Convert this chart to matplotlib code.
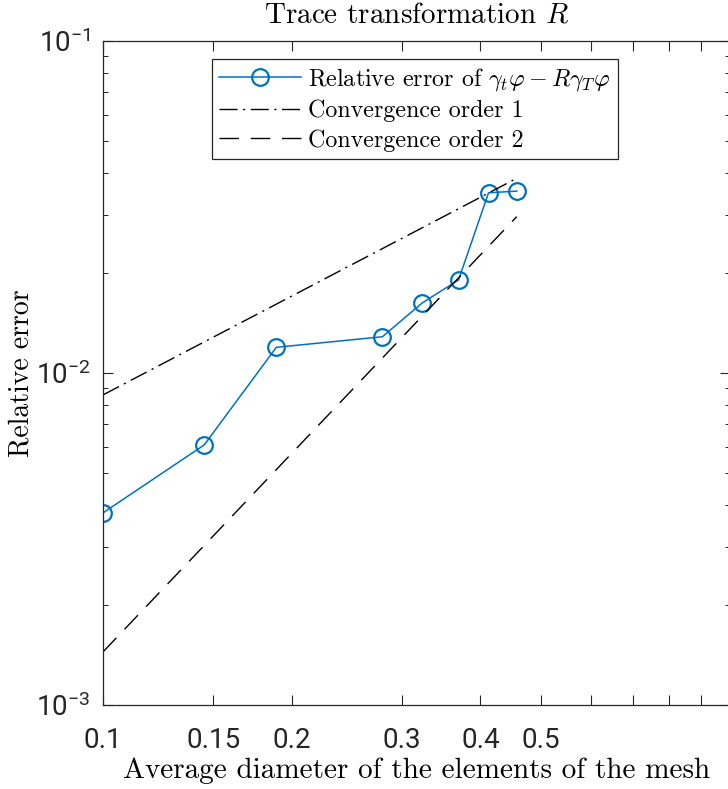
import matplotlib
matplotlib.use("Agg")
import matplotlib.pyplot as plt
from matplotlib.ticker import FixedLocator, LogLocator, NullFormatter, FixedFormatter
import numpy as np

# datos
h_mesh = [0.1, 0.145, 0.189, 0.279, 0.323, 0.369, 0.412, 0.457]
rel_err = [0.00379, 0.00607, 0.01195, 0.01286, 0.01626, 0.01906, 0.0349, 0.0353]

order1_h = [0.1, 0.457]
order1_err = [0.00859, 0.0386]
order2_h = [0.1, 0.457]
order2_err = [0.001445, 0.02958]

xtick_vals = [0.1, 0.15, 0.2, 0.3, 0.4, 0.5, 0.6, 0.7, 0.8, 0.9]
xtick_labels = ["0.1", "0.15", "0.2", "0.3", "0.4", "0.5", "", "", "", ""]

plt.rcParams['mathtext.fontset'] = 'cm'
plt.rcParams['axes.unicode_minus'] = True

W, H = 728, 789
fig = plt.figure(figsize=(W / 100, H / 100), dpi=100)
ax = fig.add_axes([103 / W, 1 - 705 / H, 627 / W, 664 / H])

azul = "#0072BD"
gris = "#262626"

ax.plot(h_mesh, rel_err, '-o', color=azul, lw=1.1, ms=12, mfc='none', mew=1.6,
        label=r"Relative error of $\gamma_t\varphi - R\gamma_T\varphi$")
ax.plot(order1_h, order1_err, color='k', lw=1.0, dashes=(13, 4, 1.5, 4),
        label="Convergence order 1")
ax.plot(order2_h, order2_err, color='k', lw=1.0, dashes=(14, 8.5),
        label="Convergence order 2")

ax.set_xscale('log')
ax.set_yscale('log')
ax.set_xlim(0.1, 1.0)
ax.set_ylim(1e-3, 1e-1)

ax.xaxis.set_major_locator(FixedLocator(xtick_vals))
ax.xaxis.set_major_formatter(FixedFormatter(xtick_labels))
ax.xaxis.set_minor_locator(FixedLocator([]))
ax.yaxis.set_major_locator(LogLocator(base=10))
ax.yaxis.set_minor_locator(LogLocator(base=10, subs=np.arange(2, 10)))
ax.yaxis.set_minor_formatter(NullFormatter())

ax.tick_params(which='both', direction='in', top=True, right=True, color=gris)
ax.tick_params(which='major', length=7, width=0.8, labelsize=20, pad=9)
ax.tick_params(which='minor', length=3.5, width=0.7)
ax.tick_params(axis='x', which='major', pad=16)
for lbl in ax.get_xticklabels() + ax.get_yticklabels():
    lbl.set_fontfamily('Roboto')
    lbl.set_color('#262626')

for s in ax.spines.values():
    s.set_color(gris)
    s.set_linewidth(0.9)

ax.set_title(r"Trace transformation $R$", fontfamily='cmr10', fontsize=21, pad=13)
ax.set_xlabel("Average diameter of the elements of the mesh", fontfamily='cmr10', fontsize=21,
              labelpad=2)
ax.set_ylabel("Relative error", fontfamily='cmr10', fontsize=20, va='center')
ax.yaxis.set_label_coords(-0.13, 0.5)

leg = ax.legend(loc='upper left', bbox_to_anchor=(212 / W, 1 - 59 / H),
                bbox_transform=fig.transFigure, fancybox=False, framealpha=1,
                edgecolor=gris, prop={'family': 'cmr10', 'size': 17.3},
                handlelength=3.4, handletextpad=0.3, labelspacing=0.28,
                borderpad=0.3, borderaxespad=0)
leg.get_frame().set_linewidth(0.9)

fig.savefig("out.png", dpi=100)
